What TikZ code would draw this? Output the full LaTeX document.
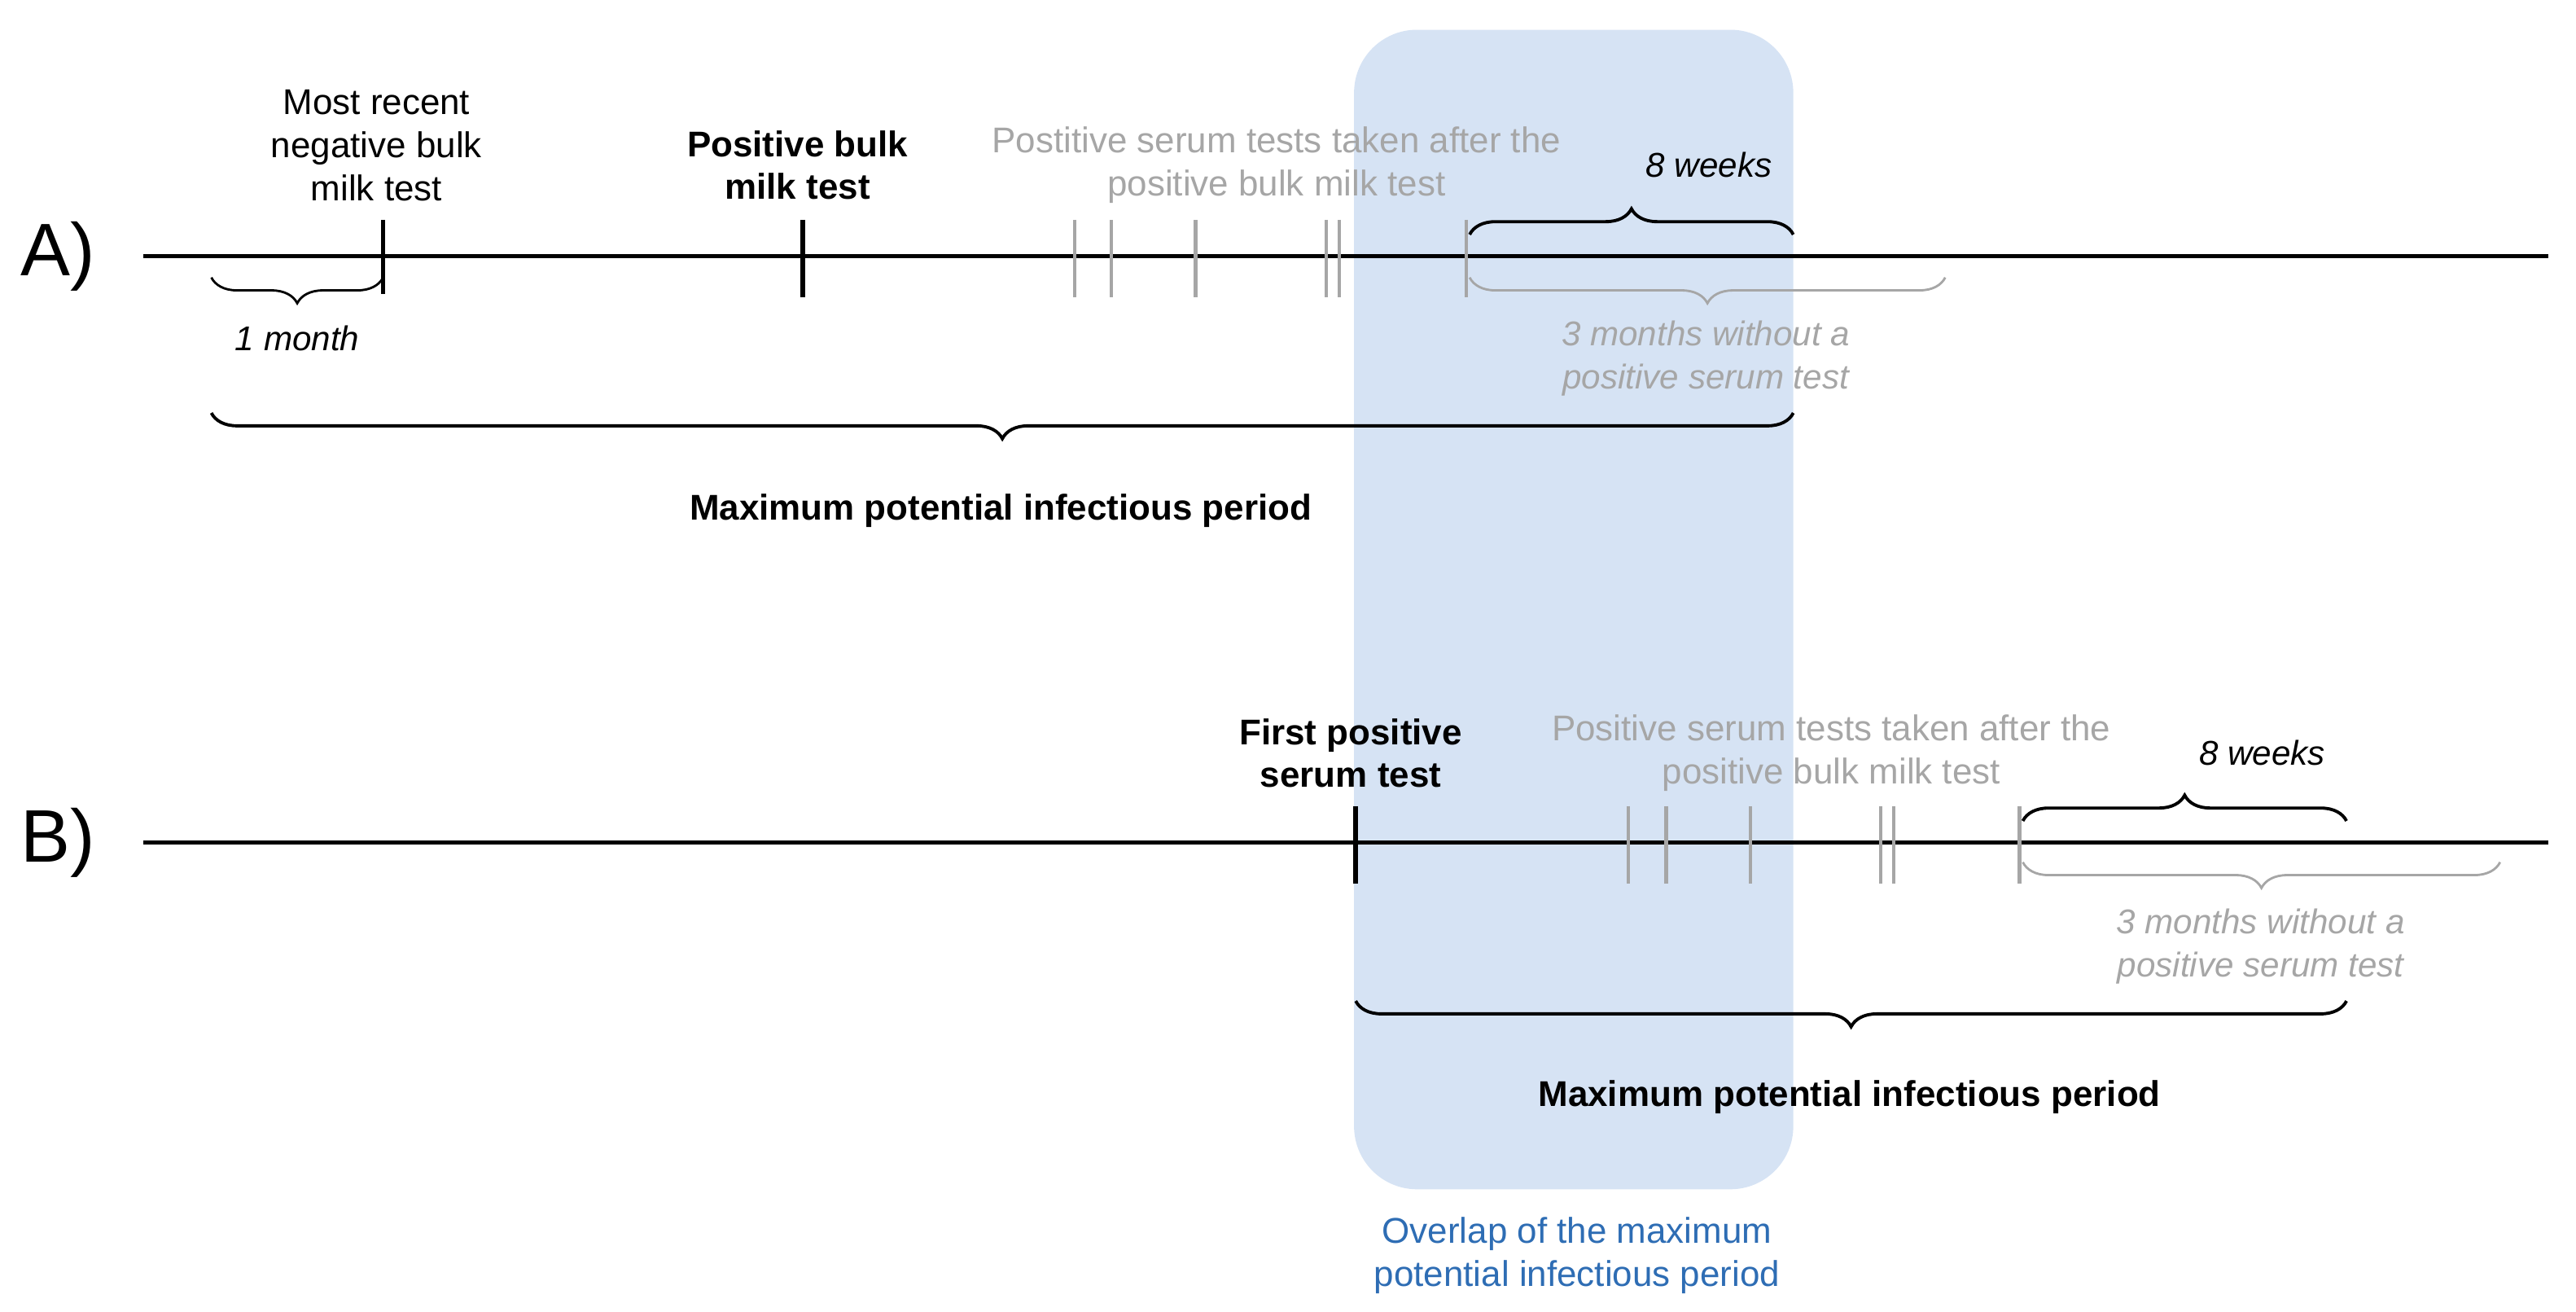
\documentclass[tikz,border=0pt]{standalone}
\usepackage{fontspec}
\setmainfont{Liberation Sans}
\usetikzlibrary{decorations.pathreplacing}
\definecolor{ovl}{HTML}{D6E3F4}
\definecolor{ovt}{HTML}{2E6DB4}
\definecolor{gr}{HTML}{A6A6A6}
\begin{document}
\begin{tikzpicture}[x=0.02028cm,y=-0.02028cm,
  txt/.style={align=center,font=\fontsize{12.5}{15}\selectfont},
  axis/.style={line width=1.6pt},
  tk/.style={line width=1.2pt},
  gtk/.style={line width=1.2pt,gr},
  br/.style={decorate,decoration={brace,amplitude=9pt},line width=1.1pt},
  gbr/.style={br,gr},
  lab/.style={font=\fontsize{12}{15}\selectfont\itshape}]
\useasboundingbox (0,0) rectangle (1560,794);
\fill[ovl,rounded corners=22pt] (820,18) rectangle (1086,720);
% A
\node[font=\fontsize{26}{30}\selectfont] (la) at (35,155) {A)};
\coordinate (a0) at (87,155); \coordinate (a1) at (1543,155);
\draw[axis] (a0) -- (a1);
\draw[tk] (232,133) -- (232,178);
\draw[line width=1.8pt] (486,133) -- (486,180);
\foreach \x in {651,673,724,803,811,888} \draw[gtk] (\x,133) -- (\x,180);
\node[txt] (t1) at (228,88) {Most recent\\negative bulk\\milk test};
\node[txt,font=\fontsize{12.5}{15}\selectfont\bfseries] (t2) at (483,100) {Positive bulk\\milk test};
\node[txt,text=gr] (t3) at (773,100) {Postitive serum tests taken after the\\positive bulk milk test};
\draw[br] (890,142) -- (1086,142);
\node[lab] (w8a) at (1035,100) {8 weeks};
\draw[gbr,line width=0.8pt] (1178,168) -- (890,168);
\node[lab,text=gr,align=center] (m3a) at (1033,217) {3 months without a\\positive serum test};
\draw[br,line width=0.8pt] (232,168) -- (128,168);
\node[lab] (m1) at (180,205) {1 month};
\draw[br] (1086,250) -- (128,250);
\node[txt,font=\fontsize{12.5}{15}\selectfont\bfseries] (mpa) at (606,309) {Maximum potential infectious period};
% B
\node[font=\fontsize{26}{30}\selectfont] (lb) at (35,510) {B)};
\coordinate (b0) at (87,510); \coordinate (b1) at (1543,510);
\draw[axis] (b0) -- (b1);
\draw[line width=1.8pt] (821,488) -- (821,535);
\foreach \x in {986,1009,1060,1139,1147,1223} \draw[gtk] (\x,488) -- (\x,535);
\node[txt,font=\fontsize{12.5}{15}\selectfont\bfseries] (t4) at (818,456) {First positive\\serum test};
\node[txt,text=gr] (t5) at (1109,456) {Positive serum tests taken after the\\positive bulk milk test};
\draw[br] (1225,497) -- (1421,497);
\node[lab] (w8b) at (1370,456) {8 weeks};
\draw[gbr,line width=0.8pt] (1514,522) -- (1225,522);
\node[lab,text=gr,align=center] (m3b) at (1369,573) {3 months without a\\positive serum test};
\draw[br] (1421,606) -- (821,606);
\node[txt,font=\fontsize{12.5}{15}\selectfont\bfseries] (mpb) at (1120,664) {Maximum potential infectious period};
\node[txt,text=ovt] (ov) at (955,760) {Overlap of the maximum\\potential infectious period};
\end{tikzpicture}
\end{document}
